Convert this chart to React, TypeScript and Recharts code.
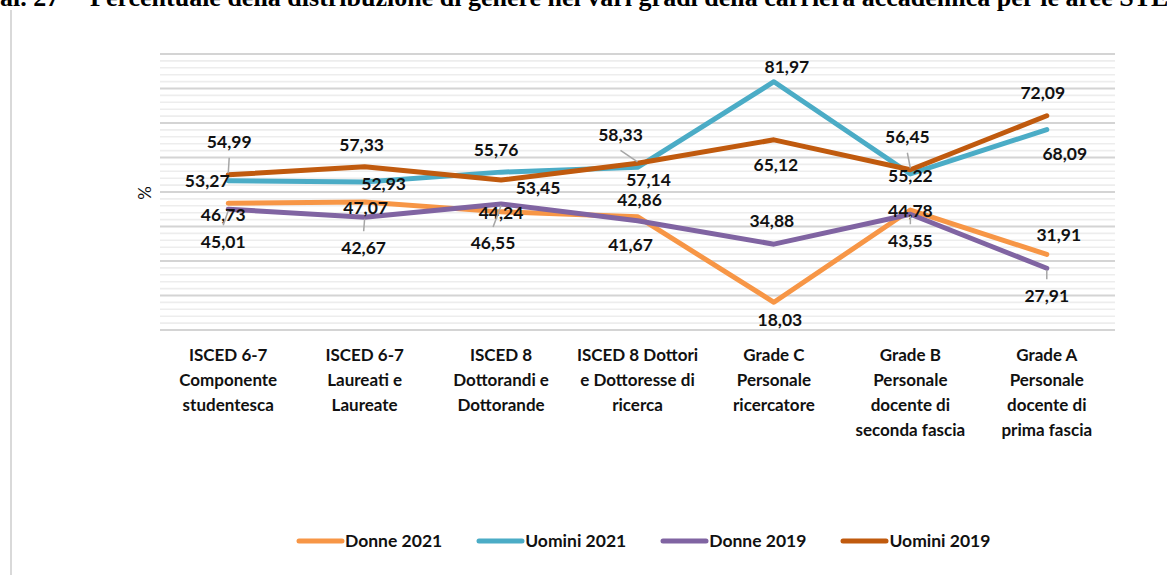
import { LineChart, Line, XAxis, YAxis, CartesianGrid, LabelList } from 'recharts'

const categories = [
  'ISCED 6-7\nComponente\nstudentesca',
  'ISCED 6-7\nLaureati e\nLaureate',
  'ISCED 8\nDottorandi e\nDottorande',
  'ISCED 8 Dottori\ne Dottoresse di\nricerca',
  'Grade C\nPersonale\nricercatore',
  'Grade B\nPersonale\ndocente di\nseconda fascia',
  'Grade A\nPersonale\ndocente di\nprima fascia',
]

const donne2021 = [46.73, 47.07, 44.24, 42.86, 18.03, 44.78, 31.91]
const uomini2021 = [53.27, 52.93, 55.76, 57.14, 81.97, 55.22, 68.09]
const donne2019 = [45.01, 42.67, 46.55, 41.67, 34.88, 43.55, 27.91]
const uomini2019 = [54.99, 57.33, 53.45, 58.33, 65.12, 56.45, 72.09]

const yTicks = Array.from({ length: 41 }, (_, i) => 10 + i * 2)

const series = [
  { key: 'donne2021', name: 'Donne 2021', color: '#F79646', values: donne2021 },
  { key: 'uomini2021', name: 'Uomini 2021', color: '#4BACC6', values: uomini2021 },
  { key: 'donne2019', name: 'Donne 2019', color: '#8064A2', values: donne2019 },
  { key: 'uomini2019', name: 'Uomini 2019', color: '#C05A0E', values: uomini2019 },
]

// label shift from the point: [dx, dy, leader line?]
const labelShift: Record<string, [number, number, boolean?][]> = {
  donne2021: [[-5, 11], [1, 6], [0, 1], [2, -17], [6, 17], [0, 1], [12, -20]],
  uomini2021: [[-21, 0], [19, 2], [-5, -22], [11, 12], [13, -15], [0, 2], [18, 24]],
  donne2019: [[-5, 32, true], [-1, 30, true], [-8, 39, true], [-7, 24], [-2, -23], [0, 26, true], [0, 27, true]],
  uomini2019: [[1, -33, true], [-3, -22], [37, 8], [-17, -29, true], [2, 25], [-3, -33, true], [-4, -23]],
}

const data = categories.map((category, i) => ({
  category,
  donne2021: donne2021[i],
  uomini2021: uomini2021[i],
  donne2019: donne2019[i],
  uomini2019: uomini2019[i],
}))

const FONT = 'Lato, "Open Sans", sans-serif'

const fmt = (v: number) => v.toFixed(2).replace('.', ',')

function CategoryTick(props: any) {
  const { x, y, payload } = props
  const lines = String(payload.value).split('\n')
  return (
    <text x={x} y={y} textAnchor="middle" fontFamily={FONT} fontSize={17} fontWeight={700} fill="#111">
      {lines.map((l, i) => (
        <tspan key={i} x={x} dy={i === 0 ? 31 : 25}>
          {l}
        </tspan>
      ))}
    </text>
  )
}

function GridLine(props: any) {
  const { x1, x2, y1, y2, index } = props
  const major = index % 5 === 0
  return (
    <line
      key={`g-${index}`}
      x1={x1}
      x2={x2}
      y1={y1}
      y2={y2}
      stroke={major ? '#d4d4d4' : '#ededed'}
      strokeWidth={major ? 2 : 1.6}
    />
  )
}

function makeLabel(key: string, values: number[]) {
  return (props: any) => {
    const px = props.x ?? props.viewBox?.x
    const py = props.y ?? props.viewBox?.y
    const i = values.indexOf(Number(props.value))
    const shift = labelShift[key][i]
    if (!shift || px == null || py == null) return null
    const [dx, dy, leader] = shift
    const lx = px + dx
    const ly = py + dy
    const s = dy > 0 ? 1 : -1
    return (
      <g key={`${key}-${i}`}>
        {leader && (
          <line x1={px} y1={py + s * 1.5} x2={lx} y2={ly - s * 16} stroke="#a6a6a6" strokeWidth={1.5} />
        )}
        <text
          x={lx}
          y={ly}
          dy="0.36em"
          textAnchor="middle"
          fontFamily={FONT}
          fontSize={17.5}
          fontWeight={700}
          fill="#111"
        >
          {fmt(Number(props.value))}
        </text>
      </g>
    )
  }
}

export default function App() {
  return (
    <div
      style={{
        position: 'absolute',
        left: 0,
        top: 0,
        width: 1167,
        height: 575,
        overflow: 'hidden',
        background: '#fff',
      }}
    >
      <div
        style={{
          position: 'absolute',
          top: -15,
          left: 0,
          whiteSpace: 'nowrap',
          fontFamily: '"Liberation Serif", serif',
          fontWeight: 700,
          fontSize: 26,
          lineHeight: '26px',
          color: '#000',
        }}
      >
        <span>al. 27</span>
        <span style={{ position: 'absolute', left: 90 }}>
          Percentuale della distribuzione di genere nei vari gradi della carriera accademica per le aree STEM
        </span>
      </div>
      <div style={{ position: 'absolute', left: 10, top: 10, width: 2, height: 565, background: '#d9d9d9' }} />

      <LineChart width={1167} height={575} data={data} margin={{ top: 54, right: 52, bottom: 125, left: 160 }}>
        <CartesianGrid vertical={false} horizontal={GridLine} />
        <XAxis
          dataKey="category"
          scale="band"
          interval={0}
          height={120}
          axisLine={false}
          tickLine={false}
          tickSize={0}
          tickMargin={0}
          tick={<CategoryTick />}
        />
        <YAxis hide domain={[10, 90]} ticks={yTicks} interval={0} type="number" />
        {series.map((s) => (
          <Line
            key={s.key}
            dataKey={s.key}
            name={s.name}
            type="linear"
            stroke={s.color}
            strokeWidth={5}
            strokeLinecap="round"
            strokeLinejoin="round"
            dot={false}
            activeDot={false}
            isAnimationActive={false}
          />
        ))}
        {series.map((s) => (
          <Line
            key={`${s.key}-labels`}
            dataKey={s.key}
            stroke="none"
            legendType="none"
            dot={false}
            activeDot={false}
            isAnimationActive={false}
          >
            <LabelList dataKey={s.key} content={makeLabel(s.key, s.values)} />
          </Line>
        ))}
      </LineChart>

      <div
        style={{
          position: 'absolute',
          top: 531,
          left: 295,
          display: 'flex',
          alignItems: 'center',
          gap: 33,
          fontFamily: FONT,
          fontSize: 17.5,
          fontWeight: 700,
          color: '#111',
        }}
      >
        {series.map((s) => (
          <div key={s.key} style={{ display: 'flex', alignItems: 'center' }}>
            <svg width={50} height={10}>
              <line x1={4} y1={5} x2={47} y2={5} stroke={s.color} strokeWidth={5} strokeLinecap="round" />
            </svg>
            <span style={{ lineHeight: '20px' }}>{s.name}</span>
          </div>
        ))}
      </div>
      <div
        style={{
          position: 'absolute',
          left: 135,
          top: 183,
          width: 20,
          height: 20,
          lineHeight: '20px',
          textAlign: 'center',
          transform: 'rotate(-90deg)',
          fontFamily: FONT,
          fontSize: 17,
          color: '#111',
        }}
      >
        %
      </div>
    </div>
  )
}
